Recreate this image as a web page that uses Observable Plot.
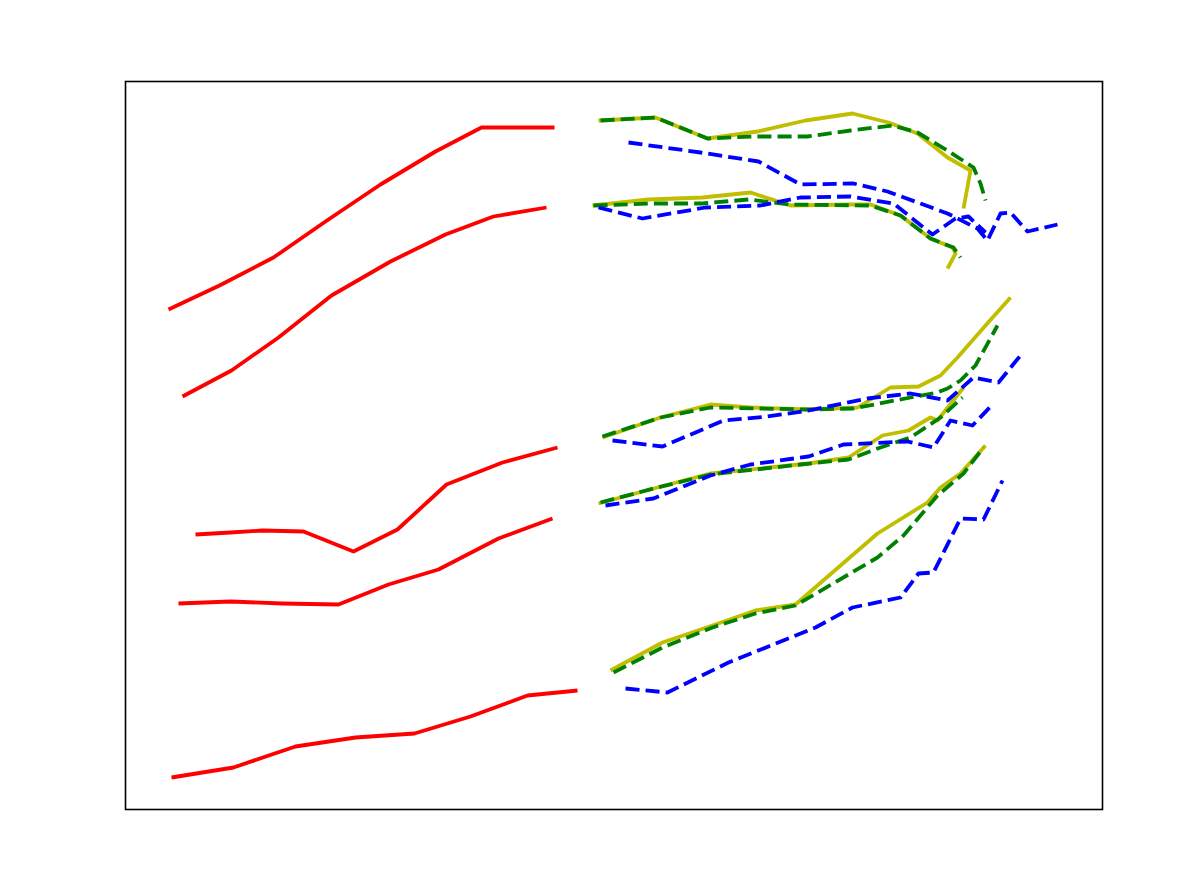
<!DOCTYPE html>
<html>
<head>
<meta charset="utf-8">
<script src="https://cdn.jsdelivr.net/npm/d3@7"></script>
<script src="https://cdn.jsdelivr.net/npm/@observablehq/plot@0.6"></script>
<style>
  html, body { margin: 0; padding: 0; background: #ffffff; }
  #chart { width: 1196px; height: 881px; }
</style>
</head>
<body>
<div id="chart"></div>
<script>
// Values, in frame units (x: 0..977, y: 0..728)
const red1 = [[43,500],[94,524],[148,552],[200,588],[255,625],[310,658],[356,682],[429,682]];
const red2 = [[57,413],[106,439],[153,472],[206,514],[265,548],[320,575],[368,593],[421,602]];
const red3 = [[70,275],[105,277],[137,279],[178,278],[228,258],[272,280],[321,325],[377,347],[432,362]];
const red4 = [[53,206],[105,208],[157,206],[213,205],[263,225],[313,240],[373,271],[427,291]];
const red5 = [[46,32],[108,42],[170,63],[230,72],[289,76],[345,93],[402,114],[452,119]];

const yellow1 = [[473,689],[530,692],[582,671],[632,678],[680,689],[727,696],[763,687],[792,676],[822,652],[845,639],[838,601]];
const green1  = [[475,689],[530,692],[582,671],[627,673],[682,673],[725,679],[767,684],[792,677],[822,659],[848,642],[855,626],[860,609]];
const blue1   = [[503,667],[575,657],[633,648],[675,625],[728,626],[762,618],[795,606],[822,596],[852,581],[862,569],[875,596],[885,597],[902,578],[932,585]];

const yellow2 = [[467,604],[523,610],[577,612],[625,617],[665,604],[725,605],[745,605],[775,594],[805,571],[827,562],[830,556],[822,541]];
const green2  = [[468,604],[525,606],[577,606],[623,610],[663,605],[745,604],[775,594],[805,571],[828,562],[835,552]];
const blue2   = [[473,602],[517,591],[580,602],[635,604],[675,612],[725,613],[768,606],[807,575],[830,591],[843,593],[860,577]];

const yellow3 = [[477,372],[535,392],[585,405],[625,402],[683,400],[732,402],[765,422],[793,423],[815,434],[832,452],[860,484],[885,512]];
const green3  = [[477,373],[535,392],[585,402],[682,400],[728,401],[785,412],[812,417],[822,421],[835,429],[850,444],[872,484]];
const blue3   = [[487,369],[537,363],[598,389],[642,393],[683,399],[742,411],[785,416],[822,409],[848,432],[873,427],[895,454]];

const yellow4 = [[473,306],[532,322],[585,336],[683,346],[723,352],[757,374],[783,379],[805,392],[812,389],[838,422]];
const green4  = [[475,307],[532,322],[585,335],[675,345],[723,350],[755,362],[785,372],[815,392],[837,412]];
const blue4   = [[480,304],[528,311],[585,334],[625,345],[683,353],[718,365],[782,368],[808,362],[825,389],[847,384],[868,406]];

const yellow5 = [[485,139],[537,167],[587,184],[630,199],[670,205],[752,276],[802,307],[815,322],[835,336],[860,364]];
const green5  = [[488,137],[537,162],[587,182],[630,196],[670,204],[752,252],[778,274],[812,314],[838,336],[858,362]];
const blue5   = [[500,121],[542,117],[603,147],[643,163],[690,182],[727,202],[775,212],[793,236],[808,237],[835,291],[858,290],[877,329]];

const toRows = (arr, id) => arr.map(([x, y], i) => ({x, y, id, i}));

const reds    = [red1, red2, red3, red4, red5].flatMap((s, k) => toRows(s, "r" + k));
const yellows = [yellow1, yellow2, yellow3, yellow4, yellow5].flatMap((s, k) => toRows(s, "y" + k));
const greens  = [green1, green2, green3, green4, green5].flatMap((s, k) => toRows(s, "g" + k));
const blues   = [blue1, blue2, blue3, blue4, blue5].flatMap((s, k) => toRows(s, "b" + k));

const LW = 3.8;
const dash = `${(3.7 * LW).toFixed(2)},${(1.6 * LW).toFixed(2)}`;

const chart = Plot.plot({
  width: 1196,
  height: 881,
  marginLeft: 125,
  marginRight: 94,
  marginTop: 81,
  marginBottom: 72,
  x: {domain: [0, 977], axis: null},
  y: {domain: [0, 728], axis: null},
  style: {background: "#ffffff"},
  marks: [
    Plot.line(reds,    {x: "x", y: "y", z: "id", stroke: "#ff0000", strokeWidth: LW, strokeLinejoin: "round", strokeLinecap: "butt"}),
    Plot.line(yellows, {x: "x", y: "y", z: "id", stroke: "#bfbf00", strokeWidth: LW, strokeLinejoin: "round", strokeLinecap: "butt"}),
    Plot.line(greens,  {x: "x", y: "y", z: "id", stroke: "#008000", strokeWidth: LW, strokeDasharray: dash, strokeLinejoin: "round", strokeLinecap: "butt"}),
    Plot.line(blues,   {x: "x", y: "y", z: "id", stroke: "#0000ff", strokeWidth: LW, strokeDasharray: dash, strokeLinejoin: "round", strokeLinecap: "butt"}),
    Plot.frame({stroke: "#000000", strokeWidth: 1.6})
  ]
});
document.getElementById("chart").appendChild(chart);
</script>
</body>
</html>
